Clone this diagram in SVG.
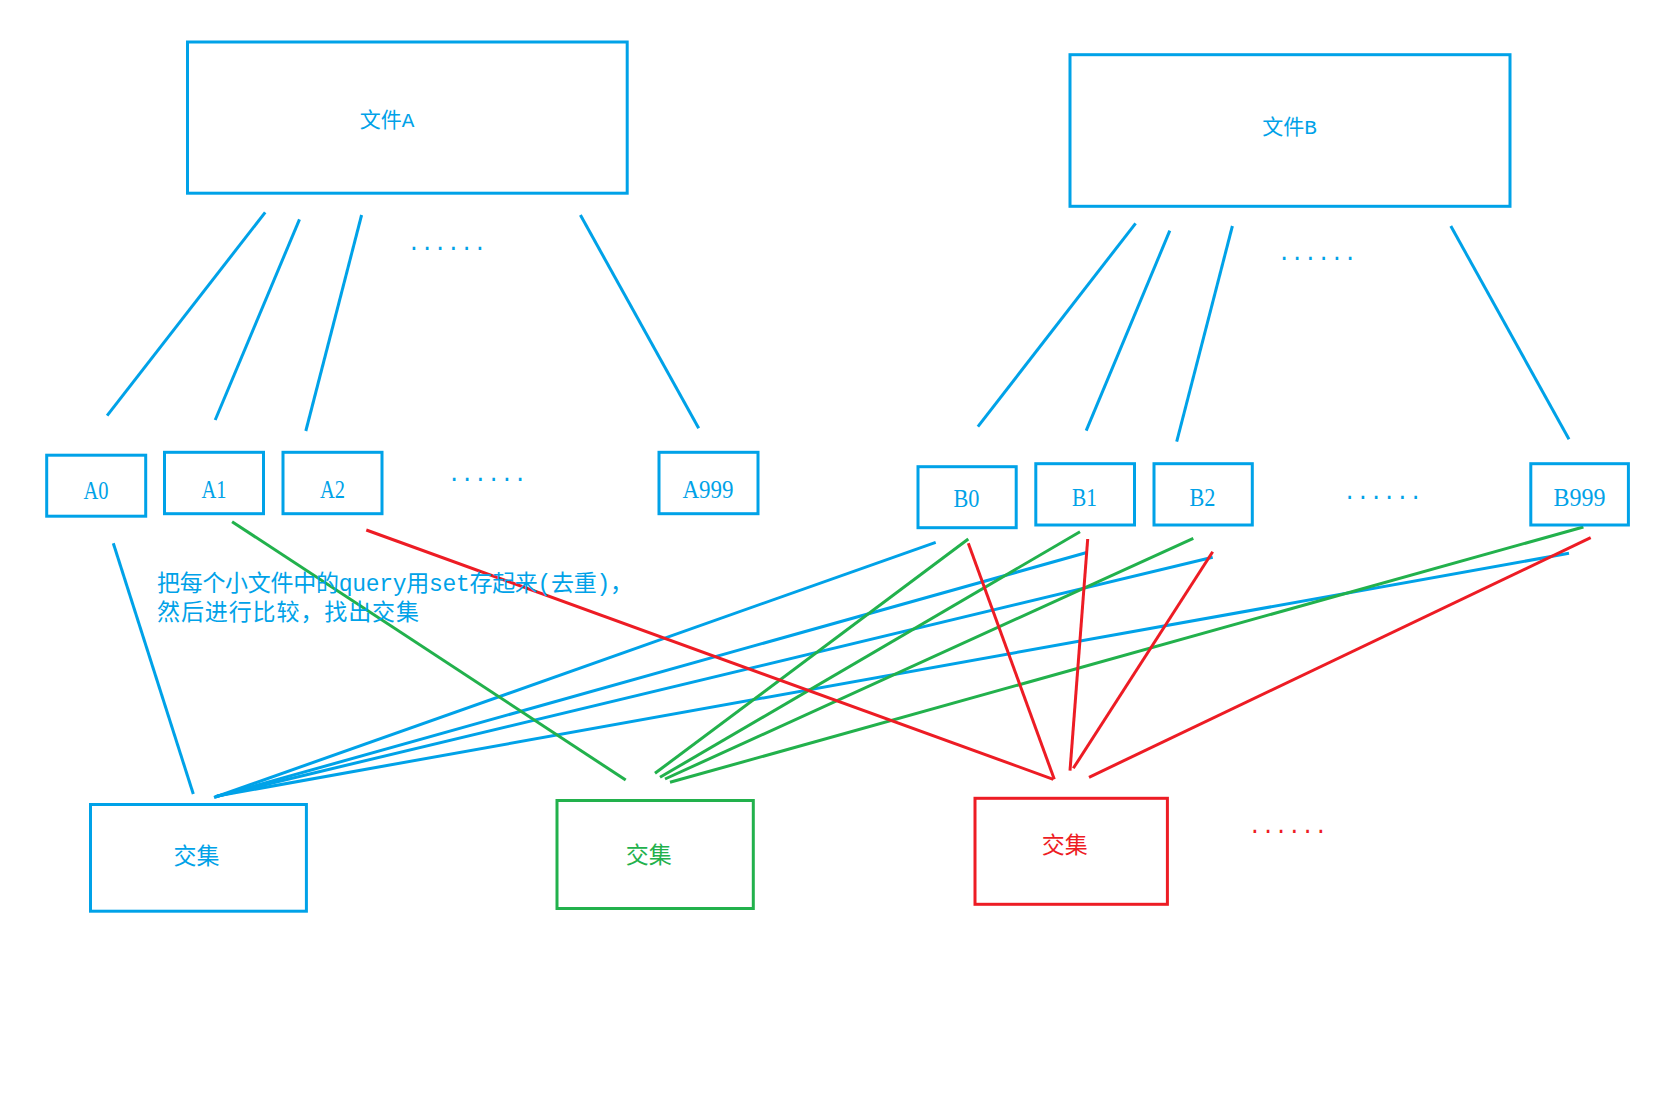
<svg xmlns="http://www.w3.org/2000/svg" width="1675" height="1105" viewBox="0 0 1675 1105">
<style>
.bx{fill:none;stroke-width:3}
.b{stroke:#00A2E8}
.g{stroke:#22B14C}
.r{stroke:#ED1C24}
.t{font-family:"Liberation Mono","Noto Sans CJK SC",monospace;text-anchor:middle}
.lb{font-family:"Liberation Serif",serif;font-size:25px;text-anchor:middle;fill:#00A2E8}
.tb{fill:#00A2E8}
.tg{fill:#22B14C}
.tr{fill:#ED1C24}
.dots{font-family:"Liberation Mono",monospace;font-size:22px}
#connectors line{stroke-width:3;stroke-linecap:butt}
</style>
<rect width="1675" height="1105" fill="#ffffff"/>
<g id="connectors">
<g class="b">
<line x1="265.2" y1="212.3" x2="107.1" y2="415.7"/>
<line x1="299.5" y1="219.3" x2="215.2" y2="420"/>
<line x1="361.6" y1="215" x2="305.8" y2="431"/>
<line x1="580.4" y1="215" x2="698.7" y2="428.3"/>
<line x1="1135.6" y1="223.3" x2="977.9" y2="426.7"/>
<line x1="1169.8" y1="230.7" x2="1086.2" y2="430.7"/>
<line x1="1232.4" y1="226" x2="1176.7" y2="441.7"/>
<line x1="1450.8" y1="226" x2="1569" y2="439.3"/>
<line x1="113.3" y1="543.3" x2="193.3" y2="794"/>
<line x1="935.7" y1="542.3" x2="214" y2="797.5"/>
<line x1="1087.7" y1="552.3" x2="215" y2="797"/>
<line x1="1212.7" y1="557.3" x2="216" y2="796.5"/>
<line x1="1569" y1="553.3" x2="217" y2="796"/>
</g>
<g class="g">
<line x1="232.1" y1="521.7" x2="625.7" y2="780"/>
<line x1="968.3" y1="539" x2="655" y2="773.3"/>
<line x1="1080" y1="531.7" x2="660" y2="777.3"/>
<line x1="1193.3" y1="538.3" x2="665" y2="779"/>
<line x1="1583.4" y1="527" x2="670" y2="782.3"/>
</g>
<g class="r">
<line x1="366.3" y1="530" x2="1053.3" y2="779.3"/>
<line x1="968.3" y1="543.3" x2="1054.3" y2="779.3"/>
<line x1="1087.7" y1="539" x2="1070" y2="770.7"/>
<line x1="1212.7" y1="551.7" x2="1073.3" y2="768.3"/>
<line x1="1590.7" y1="537.7" x2="1089" y2="777.3"/>
</g>
</g>
<g id="fileA"><rect class="bx b" x="187.5" y="42" width="439.7" height="151.2"/><text class="t tb" x="387" y="127" font-size="21">文件A</text></g>
<g id="fileB"><rect class="bx b" x="1070" y="54.7" width="440" height="151.6"/><text class="t tb" x="1289.5" y="134" font-size="21">文件B</text></g>
<g id="A0"><rect class="bx b" x="46.7" y="455.2" width="99" height="61"/><text class="lb" x="96" y="498.5" textLength="25" lengthAdjust="spacingAndGlyphs">A0</text></g>
<g id="A1"><rect class="bx b" x="164.5" y="452.3" width="99" height="61.4"/><text class="lb" x="214" y="498" textLength="25" lengthAdjust="spacingAndGlyphs">A1</text></g>
<g id="A2"><rect class="bx b" x="283" y="452.3" width="99" height="61.4"/><text class="lb" x="332.5" y="498" textLength="25" lengthAdjust="spacingAndGlyphs">A2</text></g>
<g id="A999"><rect class="bx b" x="659" y="452.3" width="99" height="61.4"/><text class="lb" x="708" y="498" textLength="51" lengthAdjust="spacingAndGlyphs">A999</text></g>
<g id="B0"><rect class="bx b" x="918" y="466.7" width="98.2" height="61"/><text class="lb" x="966.5" y="506.5" textLength="26" lengthAdjust="spacingAndGlyphs">B0</text></g>
<g id="B1"><rect class="bx b" x="1035.8" y="463.7" width="98.7" height="61.3"/><text class="lb" x="1084.5" y="505.5" textLength="25" lengthAdjust="spacingAndGlyphs">B1</text></g>
<g id="B2"><rect class="bx b" x="1154" y="463.7" width="98.3" height="61.3"/><text class="lb" x="1202.5" y="505.5" textLength="26" lengthAdjust="spacingAndGlyphs">B2</text></g>
<g id="B999"><rect class="bx b" x="1530.8" y="463.7" width="97.6" height="61.3"/><text class="lb" x="1579.5" y="505.5" textLength="52" lengthAdjust="spacingAndGlyphs">B999</text></g>
<g id="jiaoji1"><rect class="bx b" x="90.5" y="804.5" width="215.9" height="106.7"/><text class="t tb" x="196.4" y="864" font-size="23">交集</text></g>
<g id="jiaoji2"><rect class="bx g" x="557" y="800.5" width="196.3" height="108"/><text class="t tg" x="648.7" y="863" font-size="23">交集</text></g>
<g id="jiaoji3"><rect class="bx r" x="975" y="798.3" width="192.4" height="106"/><text class="t tr" x="1064.8" y="853" font-size="23">交集</text></g>
<g id="note" font-family="Liberation Mono, Noto Sans CJK SC, monospace" font-size="23" fill="#00A2E8">
<text x="157" y="591" textLength="476" lengthAdjust="spacing">把每个小文件中的query用set存起来(去重)，</text>
<text x="157" y="620" textLength="262" lengthAdjust="spacing">然后进行比较，找出交集</text>
</g>
<g id="ellipses">
<text class="dots tb" x="407.2" y="250">......</text>
<text class="dots tb" x="1277.4" y="260">......</text>
<text class="dots tb" x="447.4" y="481">......</text>
<text class="dots tb" x="1343" y="499">......</text>
<text class="dots tr" x="1248.2" y="832.5">......</text>
</g>
</svg>
